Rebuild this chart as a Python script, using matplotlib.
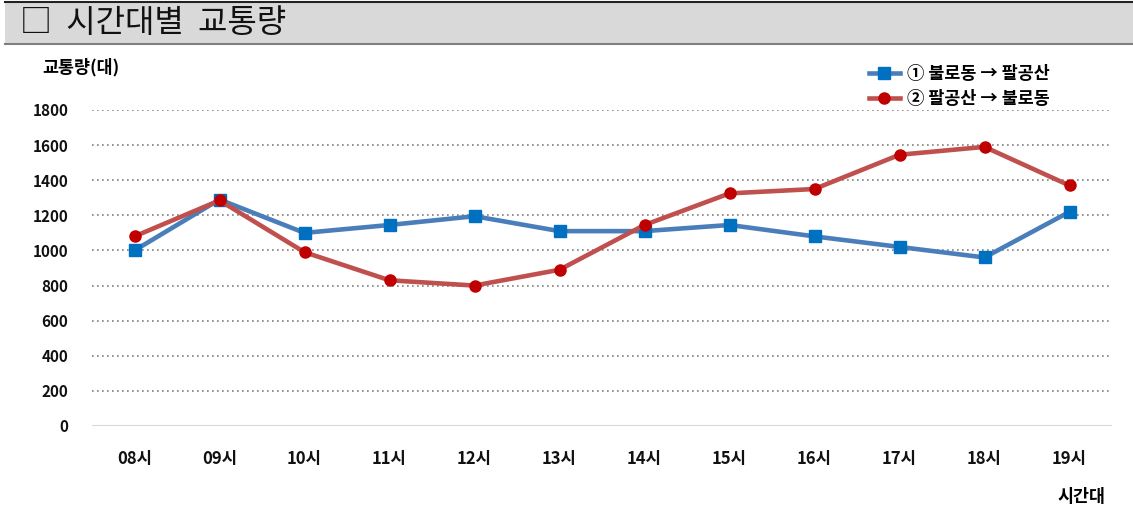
import matplotlib
matplotlib.use("Agg")
from matplotlib import pyplot as plt
from matplotlib.patches import Rectangle
from matplotlib.lines import Line2D

plt.rcParams['font.family'] = ['Noto Sans CJK KR', 'DejaVu Sans']

hours = ["08시", "09시", "10시", "11시", "12시", "13시", "14시", "15시", "16시", "17시", "18시", "19시"]
bulro_to_palgong = [1000, 1290, 1100, 1145, 1195, 1110, 1110, 1145, 1080, 1020, 960, 1220]
palgong_to_bulro = [1080, 1285, 990, 830, 800, 890, 1145, 1325, 1350, 1545, 1590, 1370]
series_names = ["① 불로동 → 팔공산", "② 팔공산 → 불로동"]
yticks = [0, 200, 400, 600, 800, 1000, 1200, 1400, 1600, 1800]

W, H = 1133, 509
fig = plt.figure(figsize=(W / 100, H / 100), dpi=100)

# title bar
fig.patches.append(Rectangle((5 / W, 1 - 44 / H), 1, 43 / H, transform=fig.transFigure,
                             facecolor='#d9d9d9', edgecolor='none', zorder=0))
fig.add_artist(Line2D([5 / W, 1], [1 - 1.5 / H, 1 - 1.5 / H], color='#222222', lw=1.5))
fig.add_artist(Line2D([5 / W, 1], [1 - 44 / H, 1 - 44 / H], color='#7f7f7f', lw=1.5))
fig.text(20 / W, 1 - 23 / H, "□  시간대별  교통량", fontsize=23, va='center', ha='left',
         color='#111111', fontweight='light')

ax = fig.add_axes([92 / W, (H - 426) / H, 1020 / W, 316 / H])
x = list(range(len(hours)))
ax.plot(x, bulro_to_palgong, color='#4a7ebb', lw=3.3, marker='s', markersize=8,
        markerfacecolor='#0070c0', markeredgecolor='#0070c0', label=series_names[0], zorder=3)
ax.plot(x, palgong_to_bulro, color='#c0504d', lw=3.3, marker='o', markersize=8,
        markerfacecolor='#c00000', markeredgecolor='#c00000', label=series_names[1], zorder=3)

ax.set_xlim(-0.5, len(hours) - 0.5)
ax.set_ylim(0, 1800)
ax.set_yticks(yticks)
ax.set_xticks(x)
ax.set_xticklabels(hours)
for v in yticks[1:]:
    ax.axhline(v, color='#808080', lw=1.2, ls=(0, (1, 2)), zorder=1)
ax.axhline(0, color='#d9d9d9', lw=1.5, zorder=1)
for s in ax.spines.values():
    s.set_visible(False)
ax.tick_params(length=0, colors='#111111')
ax.tick_params(axis='y', pad=17, labelsize=11)
ax.tick_params(axis='x', pad=17, labelsize=12)
for lab in ax.get_xticklabels() + ax.get_yticklabels():
    lab.set_fontweight('bold')
ax.patch.set_alpha(0)

fig.text(42 / W, 1 - 67 / H, "교통량(대)", fontsize=12.5, fontweight='bold', va='center', ha='left')
fig.text(1105 / W, 1 - 497 / H, "시간대", fontsize=12.5, fontweight='bold', va='center', ha='right')

ax.legend(loc='upper left', bbox_to_anchor=(860 / W, 1 - 56 / H), bbox_transform=fig.transFigure,
          frameon=False, prop={'weight': 'bold', 'size': 12.5},
          handlelength=1.8, handletextpad=0.4, labelspacing=0.4, borderpad=0)

fig.savefig("out.png", dpi=100)
